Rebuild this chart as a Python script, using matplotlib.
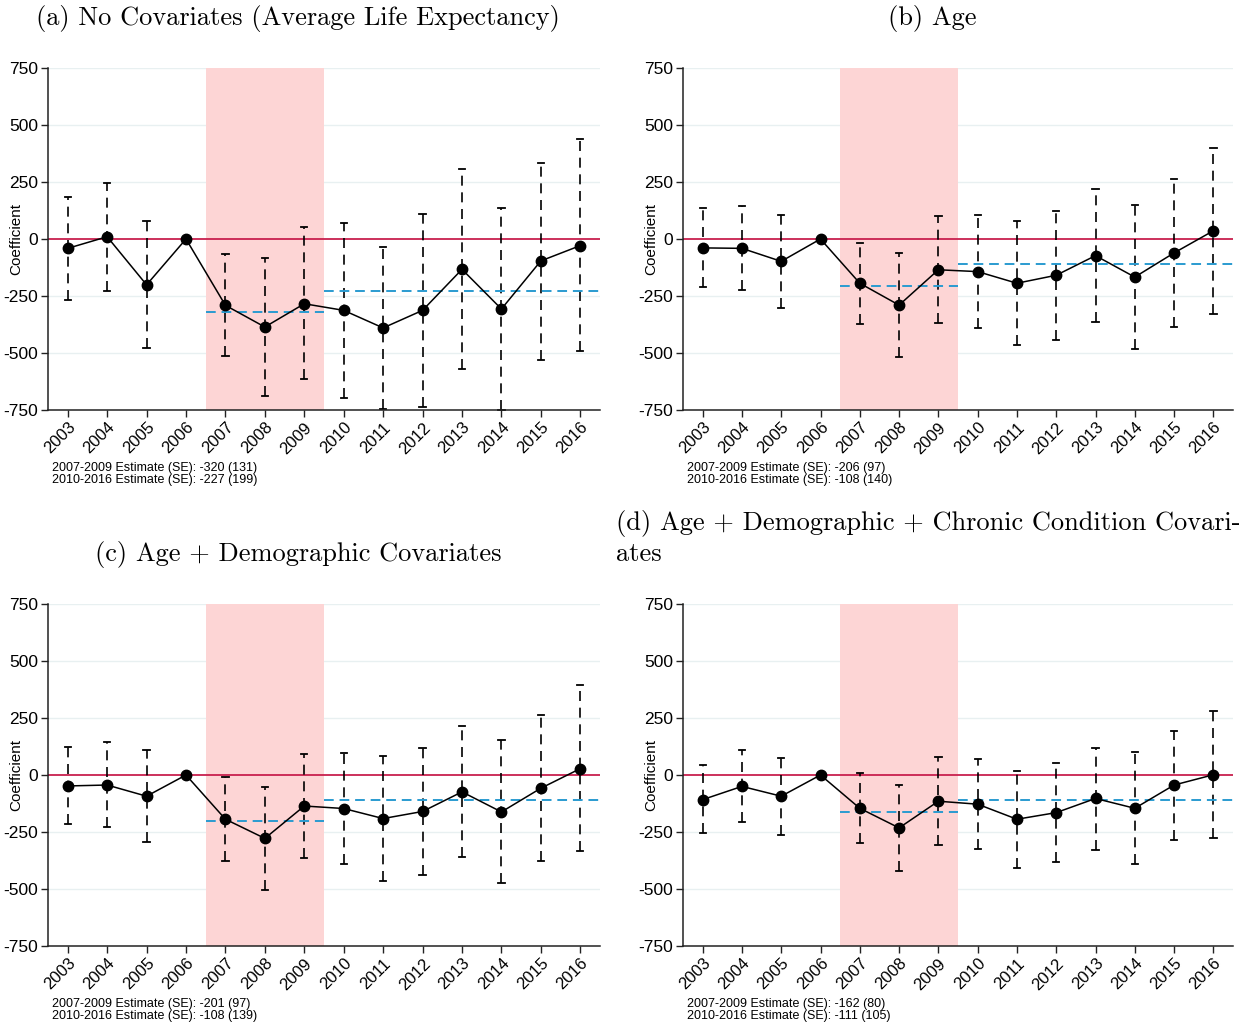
import matplotlib
matplotlib.use("Agg")
import matplotlib.pyplot as plt
import numpy as np

years = [2003, 2004, 2005, 2006, 2007, 2008, 2009, 2010, 2011, 2012, 2013, 2014, 2015, 2016]
year_labels = [str(y) for y in years]
yticks = [750, 500, 250, 0, -250, -500, -750]

# (a) No covariates
coef_a = [-41, 10, -201, 0, -291, -386, -284, -313, -390, -313, -133, -307, -96, -29]
upper_a = [185, 246, 79, None, -67, -83, 51, 68, -35, 108, 307, 134, 335, 437]
lower_a = [-266, -226, -478, None, -514, -689, -616, -696, -747, -737, -572, -752, -532, -492]
est_a = [-320, -227]
se_a = [131, 199]

# (b) Age
coef_b = [-39, -41, -98, 0, -194, -290, -135, -143, -194, -159, -73, -167, -61, 36]
upper_b = [134, 144, 106, None, -16, -61, 100, 105, 80, 125, 218, 150, 262, 398]
lower_b = [-211, -223, -301, None, -374, -517, -370, -392, -466, -443, -364, -483, -384, -328]
est_b = [-206, -108]
se_b = [97, 140]

# (c) Age + demographic covariates
coef_c = [-48, -44, -93, 0, -194, -278, -136, -147, -191, -160, -74, -162, -58, 28]
upper_c = [121, 143, 109, None, -10, -51, 93, 98, 83, 120, 213, 153, 264, 394]
lower_c = [-216, -227, -293, None, -375, -503, -364, -391, -466, -439, -361, -475, -379, -335]
est_c = [-201, -108]
se_c = [97, 139]

# (d) Age + demographic + chronic condition covariates
coef_d = [-108, -50, -93, 0, -146, -232, -115, -128, -194, -165, -103, -146, -44, 1]
upper_d = [42, 111, 74, None, 9, -42, 77, 70, 19, 52, 118, 102, 195, 280]
lower_d = [-255, -208, -261, None, -297, -420, -305, -325, -407, -380, -327, -392, -286, -278]
est_d = [-162, -111]
se_d = [80, 105]

titles = [
    "(a) No Covariates (Average Life Expectancy)",
    "(b) Age",
    "(c) Age + Demographic Covariates",
    "(d) Age + Demographic + Chronic Condition Covari-\nates",
]

W, H = 1257, 1026
fig = plt.figure(figsize=(W / 100, H / 100), dpi=100)

# axes boxes in pixels: left, right, top, bottom
boxes = [(48, 600, 68, 410), (683, 1233, 68, 410),
         (48, 600, 604, 946), (683, 1233, 604, 946)]

panels = [
    (coef_a, upper_a, lower_a, est_a, se_a),
    (coef_b, upper_b, lower_b, est_b, se_b),
    (coef_c, upper_c, lower_c, est_c, se_c),
    (coef_d, upper_d, lower_d, est_d, se_d),
]

RED = "#c8204e"
BLUE = "#2a9bd0"
PINK = "#fdd5d5"
GRID = "#e8f0f1"
sans = ["Liberation Sans", "DejaVu Sans"]

for i, ((l, r, t, b), (coef, up, lo, est, se)) in enumerate(zip(boxes, panels)):
    ax = fig.add_axes([l / W, 1 - b / H, (r - l) / W, (b - t) / H])
    ax.set_xlim(2002.5, 2016.5)
    ax.set_ylim(-750, 750)

    for yv in [750, 500, 250, -250, -500]:
        ax.axhline(yv, color=GRID, lw=1.0, zorder=0)
    ax.axvspan(2006.5, 2009.5, color=PINK, lw=0, zorder=0.5)
    ax.axhline(0, color=RED, lw=1.3, zorder=1)

    # confidence intervals
    for x, u, d in zip(years, up, lo):
        if u is None:
            continue
        ax.plot([x, x], [d, u], color="black", lw=1.2,
                linestyle=(0, (6, 4)), zorder=2, clip_on=False)
        ax.plot([x - 0.08, x + 0.08], [u, u], color="black", lw=1.3, zorder=2)
        ax.plot([x - 0.08, x + 0.08], [d, d], color="black", lw=1.3, zorder=2,
                clip_on=False)

    # pooled estimates
    ax.plot([2006.5, 2009.5], [est[0], est[0]], color=BLUE, lw=1.4,
            linestyle=(0, (5, 3)), zorder=3)
    ax.plot([2009.5, 2016.5], [est[1], est[1]], color=BLUE, lw=1.4,
            linestyle=(0, (5, 3)), zorder=3)

    ax.plot(years, coef, color="black", lw=1.1, marker="o", ms=7.5, zorder=4)

    for s in ["top", "right"]:
        ax.spines[s].set_visible(False)
    for s in ["left", "bottom"]:
        ax.spines[s].set_color("#222222")
        ax.spines[s].set_linewidth(1.1)

    ax.set_yticks(yticks)
    ax.set_yticklabels([str(v) for v in yticks], fontfamily=sans, fontsize=12.5)
    ax.set_xticks(years)
    ax.set_xticklabels(year_labels, rotation=45, ha="right", rotation_mode="anchor",
                       fontfamily=sans, fontsize=12)
    ax.tick_params(axis="both", direction="out", length=5, width=1.0, color="#222222", pad=2)
    ax.set_ylabel("Coefficient", fontfamily=sans, fontsize=11)
    label_x = 23 if i % 2 == 0 else 658
    ax.yaxis.set_label_coords((label_x - l) / (r - l), 0.5)

    fig.text((l + 4) / W, 1 - (b + 52) / H,
             f"2007-2009 Estimate (SE): {est[0]} ({se[0]})\n"
             f"2010-2016 Estimate (SE): {est[1]} ({se[1]})",
             fontfamily=sans, fontsize=9, va="top", ha="left", linespacing=1.0)

# panel titles
TFS = 19
fig.text(298 / W, 1 - 19 / H, titles[0], fontfamily="cmr10", fontsize=TFS,
         ha="center", va="center")
fig.text(932 / W, 1 - 19 / H, titles[1], fontfamily="cmr10", fontsize=TFS,
         ha="center", va="center")
fig.text(298 / W, 1 - 555 / H, titles[2], fontfamily="cmr10", fontsize=TFS,
         ha="center", va="center")
fig.text(616 / W, 1 - 538 / H, titles[3], fontfamily="cmr10", fontsize=TFS,
         ha="left", va="center", linespacing=1.25)

fig.savefig("out.png", dpi=100, facecolor="white")
